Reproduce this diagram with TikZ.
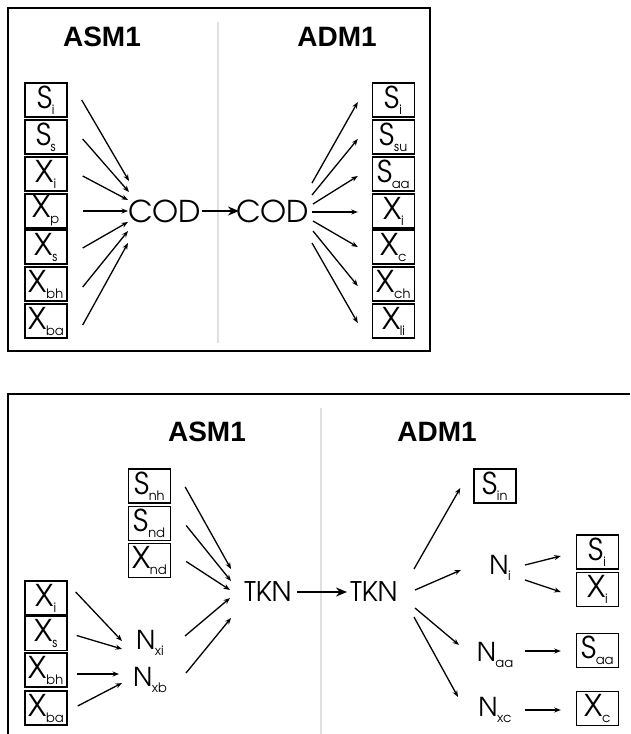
\documentclass[tikz,border=0pt]{standalone}
\usepackage{fontspec}
\setmainfont{Liberation Sans}
\newfontfamily\gfont{TeX Gyre Adventor}
\usetikzlibrary{arrows.meta}

% variable name with subscript
\newcommand\vlab[2]{{\gfont\fontsize{30}{30}\selectfont #1\kern-0.5pt\raisebox{-6pt}{\fontsize{13}{13}\selectfont #2}}}
\newcommand\nlab[2]{{\gfont\fontsize{26}{26}\selectfont #1\kern-0.5pt\raisebox{-6pt}{\fontsize{13}{13}\selectfont #2}}}

\tikzset{
  varbox/.style={draw, line width=1.4pt, minimum width=42pt, minimum height=34pt, inner sep=0pt},
  plain/.style={inner sep=0pt},
  flow/.style={line width=1.3pt, -{Stealth[length=6.5pt,width=5pt]}},
  mainflow/.style={line width=2pt, -{Stealth[length=11pt,width=9pt]}},
  frame/.style={line width=2.2pt},
  divider/.style={draw=black!12, line width=2.5pt},
  title/.style={font=\bfseries\fontsize{28}{28}\selectfont, inner sep=0pt},
  big/.style={font=\gfont\fontsize{30}{30}\selectfont, inner sep=0pt},
  mid/.style={font=\gfont\fontsize{27}{27}\selectfont, inner sep=0pt},
}

\begin{document}
\begin{tikzpicture}[x=1pt, y=-1pt]
\useasboundingbox (0,0) rectangle (630,734);

% ---------- COD panel ----------
\draw[frame] (8,8) rectangle (430,351);
\draw[divider] (218,22) -- (218,343);
\node[title] (t1) at (102,37) {ASM1};
\node[title] (t2) at (337,37) {ADM1};

\node[varbox] (aSi)  at (46,100) {\vlab{S}{i}};
\node[varbox] (aSs)  at (46,137) {\vlab{S}{s}};
\node[varbox] (aXi)  at (46,174) {\vlab{X}{i}};
\node[varbox] (aXp)  at (46,211) {\vlab{X}{p}};
\node[varbox] (aXs)  at (46,247) {\vlab{X}{s}};
\node[varbox] (aXbh) at (46,284) {\vlab{X}{bh}};
\node[varbox] (aXba) at (46,321) {\vlab{X}{ba}};

\node[big] (codL) at (165,211) {COD};
\node[big] (codR) at (273,211) {COD};

\node[varbox] (dSi)  at (393.5,100) {\vlab{S}{i}};
\node[varbox] (dSsu) at (393.5,137) {\vlab{S}{su}};
\node[varbox] (dSaa) at (393.5,174) {\vlab{S}{aa}};
\node[varbox] (dXi)  at (393.5,211) {\vlab{X}{i}};
\node[varbox] (dXc)  at (393.5,247) {\vlab{X}{c}};
\node[varbox] (dXch) at (393.5,284) {\vlab{X}{ch}};
\node[varbox] (dXli) at (393.5,321) {\vlab{X}{li}};

\draw[flow] ([xshift=14]aSi.east)  -- ([shift={(-36,-30)}]codL.center);
\draw[flow] ([shift={(15,2)}]aSs.east)  -- ([shift={(-36,-19)}]codL.center);
\draw[flow] ([shift={(15,2)}]aXi.east)  -- ([shift={(-37,-11)}]codL.center);
\draw[flow] ([xshift=15]aXp.east)  -- ([shift={(-37,0)}]codL.center);
\draw[flow] ([shift={(15,1)}]aXs.east)  -- ([shift={(-37,11)}]codL.center);
\draw[flow] ([shift={(15,3)}]aXbh.east) -- ([shift={(-37,20)}]codL.center);
\draw[flow] ([shift={(15,4)}]aXba.east) -- ([shift={(-37,32)}]codL.center);

\draw[mainflow] ([xshift=-71]codR.center) -- ([xshift=-34]codR.center);

\draw[flow] ([shift={(39,-28)}]codR.center) -- ([shift={(-14,2)}]dSi.west);
\draw[flow] ([shift={(39,-16)}]codR.center) -- ([shift={(-14,2)}]dSsu.west);
\draw[flow] ([shift={(40,-7)}]codR.center)  -- ([shift={(-14,2)}]dSaa.west);
\draw[flow] ([shift={(39,1)}]codR.center)   -- ([shift={(-14,1)}]dXi.west);
\draw[flow] ([shift={(40,10)}]codR.center)  -- ([shift={(-14,0)}]dXc.west);
\draw[flow] ([shift={(40,20)}]codR.center)  -- ([shift={(-14,2)}]dXch.west);
\draw[flow] ([shift={(39,32)}]codR.center)  -- ([shift={(-14,2)}]dXli.west);

% ---------- TKN panel ----------
\draw[frame] (630,394) -- (8,394) -- (8,734);
\draw[divider] (321,408) -- (321,734);
\node[title] (t3) at (207,432) {ASM1};
\node[title] (t4) at (437,432) {ADM1};

\node[varbox] (bSnh) at (149.5,486)   {\vlab{S}{nh}};
\node[varbox] (bSnd) at (149.5,523.5) {\vlab{S}{nd}};
\node[varbox] (bXnd) at (149.5,560.5) {\vlab{X}{nd}};
\node[varbox] (bXi)  at (46,598)   {\vlab{X}{i}};
\node[varbox] (bXs)  at (46,633.5) {\vlab{X}{s}};
\node[varbox] (bXbh) at (46,670)   {\vlab{X}{bh}};
\node[varbox] (bXba) at (46,708)   {\vlab{X}{ba}};

\node[plain] (nxi) at (150,643) {\nlab{N}{xi}};
\node[plain] (nxb) at (150,680) {\nlab{N}{xb}};

\node[mid] (tknL) at (268,592) {TKN};
\node[mid] (tknR) at (374,592) {TKN};

\node[plain] (ni)  at (500,568) {\nlab{N}{i}};
\node[plain] (naa) at (495,655) {\nlab{N}{aa}};
\node[plain] (nxc) at (495,710) {\nlab{N}{xc}};

\node[varbox] (cSin) at (495,486)   {\vlab{S}{in}};
\node[varbox] (cSi)  at (597.5,552) {\vlab{S}{i}};
\node[varbox] (cXi)  at (597.5,589.5) {\vlab{X}{i}};
\node[varbox] (cSaa) at (597.5,650.5) {\vlab{S}{aa}};
\node[varbox] (cXc)  at (597.5,708.5) {\vlab{X}{c}};

\draw[flow] ([shift={(14,1)}]bSnh.east) -- ([shift={(-37,-23)}]tknL.center);
\draw[flow] ([shift={(15,2)}]bSnd.east) -- ([shift={(-37,-11)}]tknL.center);
\draw[flow] ([shift={(15,1)}]bXnd.east) -- ([shift={(-38,-2)}]tknL.center);
\draw[flow] ([shift={(35,-7)}]nxi.center) -- ([shift={(-38,6)}]tknL.center);
\draw[flow] ([shift={(36,-7)}]nxb.center) -- ([shift={(-37,26)}]tknL.center);

\draw[flow] ([shift={(8,-6)}]bXi.east)  -- ([shift={(-28,-2)}]nxi.center);
\draw[flow] ([shift={(9,2)}]bXs.east)   -- ([shift={(-28,6)}]nxi.center);
\draw[flow] ([shift={(9,4)}]bXbh.east)  -- ([shift={(-31,-6)}]nxb.center);
\draw[flow] ([shift={(10,-2)}]bXba.east) -- ([shift={(-28,3)}]nxb.center);

\draw[mainflow] ([xshift=-77]tknR.center) -- ([xshift=-27]tknR.center);

\draw[flow] ([shift={(40,-23)}]tknR.center) -- ([shift={(-13,2)}]cSin.west);
\draw[flow] ([shift={(41,-2)}]tknR.center)  -- ([shift={(-39,2)}]ni.center);
\draw[flow] ([shift={(41,16)}]tknR.center)  -- ([shift={(-36,-10)}]naa.center);
\draw[flow] ([shift={(40,25)}]tknR.center)  -- ([shift={(-37,-13)}]nxc.center);

\draw[flow] ([shift={(25,-3)}]ni.center) -- ([shift={(-15,4)}]cSi.west);
\draw[flow] ([shift={(25,12)}]ni.center) -- ([shift={(-15,2.5)}]cXi.west);
\draw[flow] ([shift={(30,-4)}]naa.center) -- ([shift={(-15,0.5)}]cSaa.west);
\draw[flow] ([shift={(30,0)}]nxc.center) -- ([shift={(-15,1.5)}]cXc.west);
\end{tikzpicture}
\end{document}
